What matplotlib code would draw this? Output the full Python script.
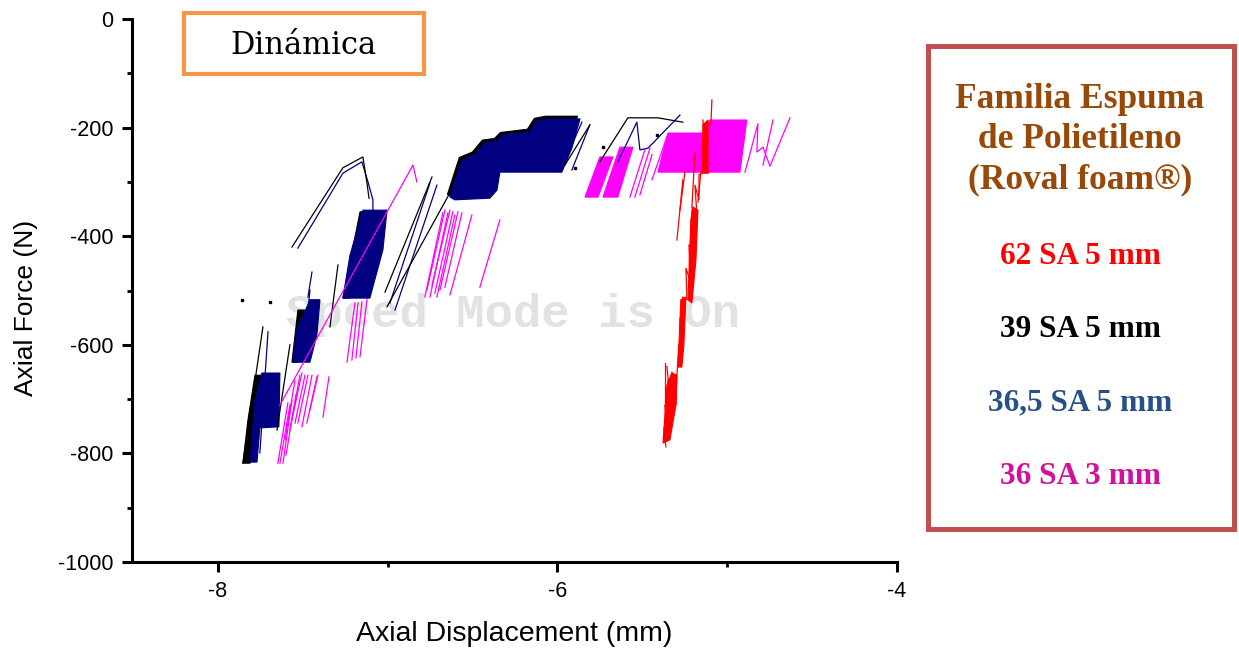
import matplotlib.pyplot as plt
from matplotlib.patches import Rectangle

plt.rcParams["axes.unicode_minus"] = False

# Ensayo dinamico - espumas de polietileno (Roval foam)
# Cada serie: bandas (zonas densas de ciclos) y trazos (lineas sueltas), en (mm, N)

# 62 SA 5 mm (rojo)
rojo_trazos = [
    [(-5.361, -788), (-5.373, -753), (-5.349, -770), (-5.367, -711), (-5.331, -724),
     (-5.349, -665), (-5.308, -661), (-5.302, -711), (-5.296, -656), (-5.285, -600),
     (-5.273, -619), (-5.278, -551), (-5.255, -564), (-5.261, -512), (-5.237, -517),
     (-5.243, -459), (-5.219, -481), (-5.225, -416), (-5.196, -425), (-5.208, -352),
     (-5.178, -361), (-5.190, -306), (-5.166, -333), (-5.166, -287), (-5.143, -282),
     (-5.137, -223), (-5.113, -232), (-5.119, -190), (-5.096, -195), (-5.090, -149)],
    [(-5.367, -634), (-5.367, -726)],
    [(-5.296, -407), (-5.261, -296)],
    [(-5.278, -352), (-5.249, -282)],
    [(-5.208, -348), (-5.190, -247)],
    [(-5.172, -337), (-5.155, -282)],
    [(-5.143, -186), (-5.113, -284)],
    [(-5.355, -640), (-5.343, -680), (-5.325, -650), (-5.330, -700)],
]
rojo_bandas = [
    [(-5.378, -781), (-5.355, -674), (-5.326, -652), (-5.296, -656), (-5.302, -711), (-5.337, -775)],
    [(-5.290, -641), (-5.273, -517), (-5.243, -512), (-5.255, -600), (-5.267, -641)],
    [(-5.231, -517), (-5.214, -370), (-5.202, -346), (-5.172, -352), (-5.184, -444), (-5.208, -523)],
    [(-5.149, -284), (-5.143, -195), (-5.113, -186), (-5.113, -284)],
]

# 39 SA 5 mm (negro)
negro_bandas = [
    [(-7.782, -656), (-7.741, -656), (-7.782, -757), (-7.811, -818), (-7.853, -818), (-7.823, -738)],
    [(-7.529, -536), (-7.487, -536), (-7.529, -632), (-7.564, -632)],
    [(-7.163, -355), (-7.122, -355), (-7.222, -514), (-7.264, -514)],
    [(-6.648, -323), (-6.578, -255), (-6.501, -245), (-6.442, -223), (-6.371, -220),
     (-6.336, -209), (-6.177, -203), (-6.136, -183), (-6.071, -179), (-5.882, -179),
     (-5.930, -233), (-5.989, -277), (-6.354, -277), (-6.371, -310), (-6.413, -325),
     (-6.619, -328)],
]
negro_trazos = [
    [(-7.564, -420), (-7.264, -274), (-7.146, -254), (-7.122, -302), (-7.110, -330)],
    [(-7.853, -818), (-7.735, -567)],
    [(-7.652, -757), (-7.576, -600)],
    [(-7.293, -453), (-7.340, -567)],
    [(-7.004, -530), (-6.633, -320)],
    [(-7.016, -503), (-6.739, -291)],
    [(-5.750, -263), (-5.585, -182), (-5.408, -182), (-5.261, -190)],
    [(-5.956, -269), (-5.809, -195)],
]
negro_puntos_x = [-7.694, -5.414, -5.732, -5.897, -7.859]
negro_puntos_y = [-521, -214, -236, -274, -517]

# 36,5 SA 5 mm (azul marino)
azul_bandas = [
    [(-7.741, -652), (-7.635, -652), (-7.641, -751), (-7.753, -753), (-7.770, -816),
     (-7.811, -816), (-7.782, -702)],
    [(-7.458, -517), (-7.399, -517), (-7.417, -582), (-7.458, -632), (-7.558, -632), (-7.535, -573)],
    [(-7.146, -352), (-7.004, -352), (-7.028, -425), (-7.105, -514), (-7.264, -514), (-7.222, -435)],
    [(-6.633, -328), (-6.563, -260), (-6.486, -250), (-6.427, -228), (-6.356, -225),
     (-6.321, -214), (-6.162, -208), (-6.121, -188), (-6.056, -184), (-5.867, -184),
     (-5.915, -238), (-5.974, -282), (-6.339, -282), (-6.356, -315), (-6.398, -330),
     (-6.604, -333)],
]
azul_trazos = [
    [(-7.529, -422), (-7.264, -284), (-7.152, -263), (-7.116, -300), (-7.087, -333), (-7.087, -352)],
    [(-7.705, -576), (-7.753, -799)],
    [(-6.987, -523), (-6.751, -302)],
    [(-6.957, -536), (-6.710, -306)],
    [(-5.644, -263), (-5.532, -190), (-5.514, -241), (-5.467, -238), (-5.278, -177)],
    [(-5.915, -278), (-5.809, -195)],
    [(-5.985, -282), (-5.856, -190)],
    [(-7.458, -499), (-7.476, -560)],
    [(-7.446, -466), (-7.470, -512)],
]

# 36 SA 3 mm (magenta)
magenta_bandas = [
    [(-5.750, -254), (-5.673, -254), (-5.761, -328), (-5.838, -328)],
    [(-5.632, -236), (-5.555, -236), (-5.644, -328), (-5.732, -328)],
    [(-5.408, -282), (-5.349, -210), (-5.143, -210), (-5.102, -186), (-4.884, -186), (-4.925, -282)],
]
magenta_trazos = [
    [(-7.635, -711), (-6.851, -269), (-6.828, -300)],
    [(-7.647, -818), (-7.588, -707)],
    [(-7.635, -818), (-7.576, -711)],
    [(-7.617, -818), (-7.564, -702)],
    [(-7.599, -803), (-7.540, -692)],
    [(-7.605, -775), (-7.546, -665)],
    [(-7.576, -757), (-7.517, -656)],
    [(-7.564, -738), (-7.505, -652)],
    [(-7.546, -744), (-7.487, -656)],
    [(-7.529, -744), (-7.470, -656)],
    [(-7.505, -751), (-7.446, -656)],
    [(-7.476, -744), (-7.417, -659)],
    [(-7.458, -720), (-7.411, -656)],
    [(-7.381, -733), (-7.346, -659)],
    [(-7.240, -632), (-7.193, -523)],
    [(-7.211, -628), (-7.175, -523)],
    [(-7.187, -624), (-7.152, -521)],
    [(-7.163, -622), (-7.122, -517)],
    [(-6.781, -512), (-6.675, -357)],
    [(-6.769, -499), (-6.663, -352)],
    [(-6.751, -512), (-6.645, -357)],
    [(-6.739, -490), (-6.633, -352)],
    [(-6.722, -505), (-6.616, -355)],
    [(-6.710, -512), (-6.604, -361)],
    [(-6.692, -499), (-6.586, -355)],
    [(-6.663, -494), (-6.563, -357)],
    [(-6.633, -508), (-6.504, -361)],
    [(-6.457, -494), (-6.339, -370)],
    [(-5.573, -328), (-5.485, -241)],
    [(-5.544, -328), (-5.455, -238)],
    [(-5.514, -324), (-5.443, -250)],
    [(-5.443, -296), (-5.355, -217)],
    [(-4.895, -282), (-4.819, -193), (-4.825, -245), (-4.789, -236), (-4.748, -271), (-4.630, -182)],
    [(-4.789, -269), (-4.730, -186)],
]

leyenda_titulo = "Familia Espuma\nde Polietileno\n(Roval foam®)"
leyenda_textos = ["62 SA 5 mm", "39 SA 5 mm", "36,5 SA 5 mm", "36 SA 3 mm"]
leyenda_colores = ["#ff0000", "#000000", "#27508a", "#d1119e"]

fig = plt.figure(figsize=(12.39, 6.51), dpi=100)
ax = fig.add_axes([0.1065, 0.1367, 0.6174, 0.8341])


def dibujar(bandas, trazos, color):
    for b in bandas:
        xs, ys = zip(*b)
        ax.fill(xs, ys, color=color, lw=0.8, zorder=2)
    for t in trazos:
        xs, ys = zip(*t)
        ax.plot(xs, ys, color=color, lw=0.9, zorder=3)


dibujar(negro_bandas, [], "black")
dibujar(azul_bandas, azul_trazos, "#000080")
dibujar([], negro_trazos, "black")
ax.plot(negro_puntos_x, negro_puntos_y, "s", color="black", ms=1.8, zorder=3)
dibujar(magenta_bandas, magenta_trazos, "#ff00ff")
dibujar(rojo_bandas, rojo_trazos, "#ff0000")

# marca de agua del software de ensayo
ax.text(-6.26, -545, "Speed Mode is On", family="Liberation Mono", weight="bold",
        fontsize=34, color="#e2e2e2", ha="center", va="center", zorder=1)

ax.set_xlim(-8.5066, -4)
ax.set_ylim(-1000, 0)
ax.set_xticks([-8, -6, -4])
ax.set_xticks([-7, -5], minor=True)
ax.set_yticks(range(-1000, 1, 200))
ax.set_yticks(range(-900, 0, 200), minor=True)
for s in ["top", "right"]:
    ax.spines[s].set_visible(False)
for s in ["left", "bottom"]:
    ax.spines[s].set_linewidth(2.2)
ax.tick_params(which="major", length=7.5, width=2.2, labelsize=15.5, pad=6)
ax.tick_params(which="minor", length=3.8, width=2.0)
for lab in ax.get_xticklabels() + ax.get_yticklabels():
    lab.set_family("Liberation Sans")
ax.set_xlabel("Axial Displacement (mm)", family="Liberation Sans", fontsize=20.5, labelpad=14)
ax.set_ylabel("Axial Force (N)", family="Liberation Sans", fontsize=19)
ax.yaxis.set_label_coords(-0.123, 0.468)

# cuadro "Dinamica"
fig.patches.append(Rectangle((184 / 1239, 1 - 74 / 651), 240 / 1239, 61 / 651,
                             transform=fig.transFigure, fill=False,
                             edgecolor="#f79646", lw=3))
fig.text(303 / 1239, 1 - 45 / 651, "Dinámica", family="DejaVu Serif", fontsize=22,
         ha="center", va="center")

# cuadro de leyenda
fig.patches.append(Rectangle((928 / 1239, 1 - 529 / 651), 306 / 1239, 483 / 651,
                             transform=fig.transFigure, fill=False,
                             edgecolor="#c0504d", lw=3.6))
fig.text(1080 / 1239, 1 - 140 / 651, leyenda_titulo, family="Liberation Serif",
         weight="bold", fontsize=25.5, color="#984807", ha="center", va="center",
         linespacing=1.28)
for i, (txt, col) in enumerate(zip(leyenda_textos, leyenda_colores)):
    fig.text(1080 / 1239, 1 - (256 + 73.5 * i) / 651, txt, family="Liberation Serif",
             weight="bold", fontsize=22.5, color=col, ha="center", va="center")

fig.savefig("out.png", dpi=100)
